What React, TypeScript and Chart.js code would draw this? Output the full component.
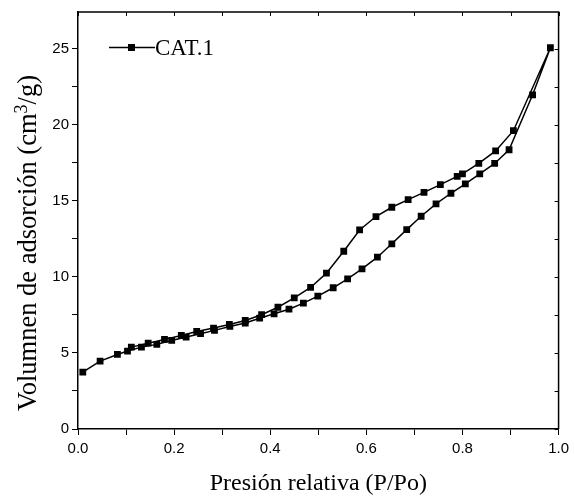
import React, { useEffect, useRef } from "react";
import { Chart, registerables } from "chart.js";

Chart.register(...registerables);

// Adsorption branch (P/Po, volume)
const adsP = [0.010, 0.046, 0.082, 0.103, 0.132, 0.164, 0.195, 0.225, 0.255, 0.284, 0.316, 0.348, 0.378, 0.408, 0.439, 0.469, 0.499, 0.531, 0.561, 0.591, 0.623, 0.653, 0.684, 0.714, 0.745, 0.776, 0.806, 0.836, 0.867, 0.897, 0.946, 0.983];
const adsV = [3.74, 4.46, 4.90, 5.12, 5.38, 5.56, 5.82, 6.04, 6.26, 6.48, 6.74, 6.96, 7.28, 7.57, 7.87, 8.27, 8.73, 9.28, 9.87, 10.52, 11.29, 12.17, 13.10, 13.98, 14.79, 15.49, 16.10, 16.76, 17.45, 18.35, 21.96, 25.05];
// Desorption branch
const desP = [0.906, 0.869, 0.834, 0.800, 0.789, 0.754, 0.720, 0.687, 0.653, 0.620, 0.586, 0.553, 0.517, 0.484, 0.450, 0.416, 0.382, 0.348, 0.315, 0.282, 0.247, 0.215, 0.180, 0.146, 0.111];
const desV = [19.60, 18.27, 17.45, 16.76, 16.60, 16.06, 15.55, 15.07, 14.57, 13.96, 13.08, 11.68, 10.24, 9.30, 8.62, 8.00, 7.51, 7.13, 6.87, 6.63, 6.41, 6.15, 5.89, 5.64, 5.38];

const seriesName = "CAT.1";
const xTitle = "Presión relativa (P/Po)";
const yTitleParts = ["Volumnen de adsorción (cm", "3", "/g)"];
const xMin = 0, xMax = 1.0, xStep = 0.1;
const yMin = 0, yMax = 27.4, yStep = 2.5;

const SERIF = "'Liberation Serif', 'Times New Roman', serif";
const SANS = "'Liberation Sans', Arial, sans-serif";

const framePlugin = {
  id: "frame",
  afterDraw(chart: any) {
    const { ctx, chartArea: a, scales } = chart;
    const xs = scales.x, ys = scales.y;
    ctx.save();
    ctx.strokeStyle = "#000";
    ctx.lineWidth = 1.5;
    ctx.beginPath();
    ctx.moveTo(a.left, a.top);
    ctx.lineTo(a.right, a.top);
    ctx.lineTo(a.right, a.bottom);
    ctx.stroke();
    ctx.lineWidth = 1;
    ctx.beginPath();
    xs.ticks.forEach((t: any) => {
      const px = Math.round(xs.getPixelForValue(t.value)) + 0.5;
      ctx.moveTo(px, a.top);
      ctx.lineTo(px, a.top + 4);
    });
    ys.ticks.forEach((t: any) => {
      const py = Math.round(ys.getPixelForValue(t.value)) + 0.5;
      ctx.moveTo(a.right, py);
      ctx.lineTo(a.right - 4, py);
    });
    ctx.stroke();
    // legend
    const lx = 109, ly = 47.5;
    ctx.lineWidth = 1.5;
    ctx.beginPath();
    ctx.moveTo(lx, ly);
    ctx.lineTo(lx + 46, ly);
    ctx.stroke();
    ctx.fillStyle = "#000";
    ctx.fillRect(lx + 19, ly - 3.5, 7, 7);
    ctx.font = `23px ${SERIF}`;
    ctx.textBaseline = "middle";
    ctx.textAlign = "left";
    ctx.fillText(seriesName, lx + 46, ly + 1);
    // y axis title with superscript
    const mainFont = `26.5px ${SERIF}`;
    const supFont = `18px ${SERIF}`;
    ctx.font = mainFont;
    const w0 = ctx.measureText(yTitleParts[0]).width;
    const w2 = ctx.measureText(yTitleParts[2]).width;
    ctx.font = supFont;
    const w1 = ctx.measureText(yTitleParts[1]).width;
    const total = w0 + w1 + w2;
    const centerY = 243;
    ctx.translate(36, centerY + total / 2);
    ctx.rotate(-Math.PI / 2);
    ctx.textBaseline = "alphabetic";
    ctx.font = mainFont;
    ctx.fillText(yTitleParts[0], 0, 0);
    ctx.font = supFont;
    ctx.fillText(yTitleParts[1], w0, -9);
    ctx.font = mainFont;
    ctx.fillText(yTitleParts[2], w0 + w1, 0);
    ctx.restore();
  },
};

export default function App() {
  const ref = useRef<HTMLCanvasElement>(null);
  useEffect(() => {
    if (!ref.current) return;
    const data = [
      ...adsP.map((p, i) => ({ x: p, y: adsV[i] })),
      ...desP.map((p, i) => ({ x: p, y: desV[i] })),
    ];
    const chart = new Chart(ref.current, {
      type: "scatter",
      data: {
        datasets: [
          {
            label: seriesName,
            data,
            showLine: true,
            borderColor: "#000",
            borderWidth: 1.5,
            backgroundColor: "#000",
            pointStyle: "rect",
            pointRadius: 4.8,
            pointBorderWidth: 0,
            pointBackgroundColor: "#000",
            tension: 0,
          },
        ],
      },
      options: {
        animation: false,
        responsive: true,
        maintainAspectRatio: false,
        layout: { padding: { top: 11, right: 13, left: 0, bottom: 0 } },
        plugins: { legend: { display: false }, tooltip: { enabled: false } },
        scales: {
          x: {
            type: "linear",
            min: xMin,
            max: xMax,
            afterFit: (s: any) => { s.height = 69; },
            border: { display: true, color: "#000", width: 1.5 },
            grid: { drawOnChartArea: false, drawTicks: true, tickLength: 6, color: "#000", lineWidth: 1 },
            ticks: {
              stepSize: xStep,
              includeBounds: false,
              padding: 5,
              color: "#000",
              font: { family: SANS, size: 15 },
              maxRotation: 0,
              autoSkip: false,
              callback: (v: any) => {
                const r = Math.round(v * 10);
                return r % 2 === 0 ? (r / 10).toFixed(1) : "";
              },
            },
            title: { display: true, text: xTitle, color: "#000", font: { family: SERIF, size: 24 }, padding: { top: 0, bottom: 0 } },
          },
          y: {
            type: "linear",
            min: yMin,
            max: yMax,
            afterFit: (s: any) => { s.width = 78; },
            border: { display: true, color: "#000", width: 1.5 },
            grid: { drawOnChartArea: false, drawTicks: true, tickLength: 6, color: "#000", lineWidth: 1 },
            ticks: {
              stepSize: yStep,
              includeBounds: false,
              padding: 3,
              color: "#000",
              font: { family: SANS, size: 15 },
              autoSkip: false,
              callback: (v: any) => {
                const r = Math.round(v * 10);
                return r % 50 === 0 ? String(r / 10) : "";
              },
            },
            title: { display: false },
          },
        },
      },
      plugins: [framePlugin],
    });
    return () => chart.destroy();
  }, []);
  return (
    <div style={{ position: "absolute", left: 0, top: 0, width: 574, height: 498, background: "#fff" }}>
      <canvas ref={ref} />
    </div>
  );
}
